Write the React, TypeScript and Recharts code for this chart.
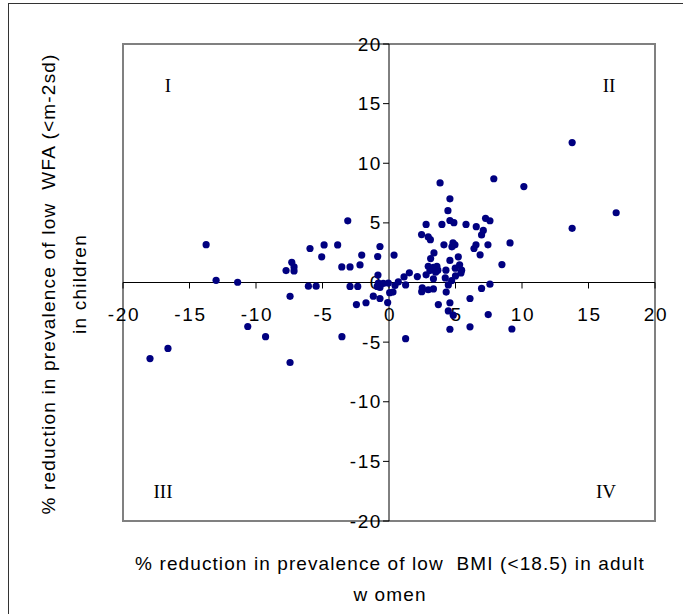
import React from 'react';
import { ScatterChart, Scatter, XAxis, YAxis, ReferenceLine, ReferenceDot, ReferenceArea } from 'recharts';

const bmiReduction = [
  -17.97, -16.62, -13.75, -13.0, -11.38, -10.62, -9.28, -7.74, -7.31, -7.14,
  -7.14, -7.44, -7.44, -5.94, -6.06, -5.48, -5.06, -4.88, -3.86, -3.55,
  -3.1, -2.93, -2.93, -3.54, -2.45, -2.35, -2.18, -2.05, -1.73, -1.18,
  -0.83, -0.85, -0.68, -0.68, -0.89, -0.8, -0.43, -0.05, -0.68, -0.1,
  0.05, 0.3, 0.38, 0.45, 0.7, 1.13, 1.25, 1.25, 1.53, 2.13,
  2.45, 2.46, 2.5, 2.79, 2.79, 2.95, 3.11, 3.13, 2.95, 2.95,
  3.38, 3.34, 3.34, 3.34, 3.51, 3.67, 3.71, 3.84, 3.98, 4.13,
  4.23, 4.28, 4.3, 4.43, 4.46, 4.58, 4.58, 4.58, 4.58, 4.46,
  4.58, 4.73, 4.88, 4.81, 4.98, 5.0, 4.96, 5.21, 5.31, 5.46,
  5.41, 4.71, 4.83, 5.79, 6.09, 6.09, 6.39, 6.54, 6.56, 6.85,
  6.96, 7.09, 6.96, 7.26, 7.59, 7.44, 7.59, 7.46, 7.88, 8.49,
  9.1, 9.24, 10.14, 13.77, 13.77, 17.08, 3.08, 3.6,
];

const wfaReduction = [
  -6.38, -5.53, 3.17, 0.18, 0.02, -3.69, -4.54, 1.0, 1.69, 1.31,
  0.97, -1.16, -6.71, 2.85, -0.31, -0.31, 2.15, 3.15, 3.15, 1.31,
  5.17, 1.31, -0.33, -4.54, -1.85, -0.33, 1.47, 2.3, -1.7, -1.15,
  0.63, 2.18, 3.02, -1.34, -0.33, -0.05, -0.08, -0.05, -0.42, -1.68,
  -0.85, -0.8, 2.3, -0.25, 0.05, 0.47, -0.2, -4.71, 0.81, 0.5,
  4.02, -0.77, -0.45, 4.87, 0.64, 3.82, 3.59, 2.01, 1.36, -0.61,
  2.48, 1.26, 0.31, -0.54, 0.87, 1.03, -1.85, 8.35, 4.87, 3.16,
  0.38, 1.03, -0.8, 6.02, -0.2, 7.02, 5.2, 1.85, -1.7, -2.38,
  -3.92, 2.99, 5.02, 3.32, 1.2, 0.55, 3.16, 2.15, 1.49, 1.03,
  0.8, 0.15, -2.74, 4.87, -1.34, -3.72, 2.85, 3.16, 4.68, 2.32,
  3.99, 4.37, -0.5, 5.38, 5.18, 3.16, -0.14, -2.69, 8.7, 1.5,
  3.32, -3.9, 8.04, 11.73, 4.54, 5.85, 1.0, 1.35,
];

const xTicks = [-20, -15, -10, -5, 0, 5, 10, 15, 20];
const yTicks = [-20, -15, -10, -5, 0, 5, 10, 15, 20];
const quadrantLabels = ['I', 'II', 'III', 'IV'];
const xTitleLines = ['% reduction in prevalence of low  BMI (<18.5) in adult', 'w omen'];
const yTitleLines = ['% reduction in prevalence of low  WFA (<m-2sd)', 'in children'];

const data = bmiReduction.map((x, i) => ({ x, y: wfaReduction[i] }));

const SANS = '"Liberation Sans", Arial, sans-serif';
const SERIF = '"Liberation Serif", "Times New Roman", serif';

const XTickShape = (label: number) => (props: any) => {
  const { cx, cy } = props;
  return (
    <g>
      <line x1={cx} y1={cy} x2={cx} y2={cy + 6} stroke="#000" strokeWidth={1} />
      <text x={cx + 1} y={cy + 32} textAnchor="middle" dominantBaseline="central" fontFamily={SANS} fontSize={19} letterSpacing={1.6} fill="#000">
        {label}
      </text>
    </g>
  );
};

const YTickShape = (label: number) => (props: any) => {
  const { cx, cy } = props;
  return (
    <g>
      <line x1={cx - 6} y1={cy} x2={cx} y2={cy} stroke="#000" strokeWidth={1} />
      <text x={cx - 7} y={cy} textAnchor="end" dominantBaseline="central" fontFamily={SANS} fontSize={19} letterSpacing={1.6} fill="#000">
        {label}
      </text>
    </g>
  );
};

export default function App() {
  return (
    <div style={{ position: 'absolute', left: 0, top: 0, width: 683, height: 614, overflow: 'hidden', background: '#fff' }}>
      <div style={{ position: 'absolute', left: 8, top: 3, width: 800, height: 800, borderLeft: '1.5px solid #333', borderTop: '1.5px solid #333' }} />
      <div style={{ position: 'absolute', left: 0, top: 0 }}>
        <ScatterChart width={683} height={614} margin={{ top: 44, right: 28, bottom: 93, left: 123 }}>
          <XAxis type="number" dataKey="x" domain={[-20, 20]} hide allowDataOverflow />
          <YAxis type="number" dataKey="y" domain={[-20, 20]} hide allowDataOverflow />
          <ReferenceArea x1={-20} x2={20} y1={-20} y2={20} fill="none" stroke="#808080" strokeWidth={2} ifOverflow="visible" />
          <ReferenceLine x={0} stroke="#000" strokeWidth={1} />
          <ReferenceLine y={0} stroke="#000" strokeWidth={1} />
          {xTicks.map((t) => (
            <ReferenceDot key={'x' + t} x={t} y={0} r={0} ifOverflow="visible" shape={XTickShape(t)} />
          ))}
          {yTicks.map((t) => (
            <ReferenceDot key={'y' + t} x={0} y={t} r={0} ifOverflow="visible" shape={YTickShape(t)} />
          ))}
          <Scatter data={data} fill="#000080" isAnimationActive={false} shape={(p: any) => <circle cx={p.cx} cy={p.cy} r={3.6} fill="#000080" />} />
        </ScatterChart>
      </div>
      <svg width={683} height={614} style={{ position: 'absolute', left: 0, top: 0, pointerEvents: 'none' }}>
        <text x={168} y={85} textAnchor="middle" dominantBaseline="central" fontFamily={SERIF} fontSize={19}>{quadrantLabels[0]}</text>
        <text x={609} y={85} textAnchor="middle" dominantBaseline="central" fontFamily={SERIF} fontSize={19}>{quadrantLabels[1]}</text>
        <text x={163} y={491} textAnchor="middle" dominantBaseline="central" fontFamily={SERIF} fontSize={19}>{quadrantLabels[2]}</text>
        <text x={606} y={491} textAnchor="middle" dominantBaseline="central" fontFamily={SERIF} fontSize={19}>{quadrantLabels[3]}</text>
        <text x={390} y={563} textAnchor="middle" dominantBaseline="central" fontFamily={SANS} fontSize={19} letterSpacing={1.1} style={{ whiteSpace: 'pre' }}>{xTitleLines[0]}</text>
        <text x={390} y={594} textAnchor="middle" dominantBaseline="central" fontFamily={SANS} fontSize={19} letterSpacing={1.1} style={{ whiteSpace: 'pre' }}>{xTitleLines[1]}</text>
        <text x={48} y={284} transform="rotate(-90 48 284)" textAnchor="middle" dominantBaseline="central" fontFamily={SANS} fontSize={19} letterSpacing={1.2} style={{ whiteSpace: 'pre' }}>{yTitleLines[0]}</text>
        <text x={79} y={284} transform="rotate(-90 79 284)" textAnchor="middle" dominantBaseline="central" fontFamily={SANS} fontSize={19} letterSpacing={1.2} style={{ whiteSpace: 'pre' }}>{yTitleLines[1]}</text>
      </svg>
    </div>
  );
}
